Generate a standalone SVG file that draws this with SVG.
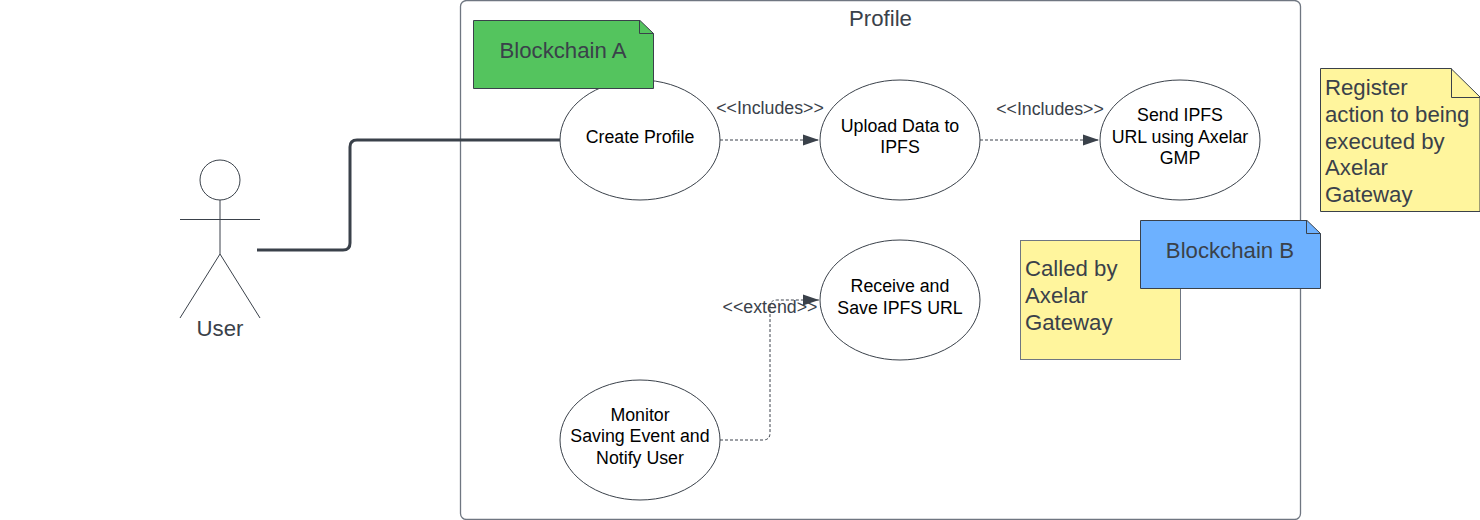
<svg xmlns="http://www.w3.org/2000/svg" width="1480" height="520" viewBox="0 0 1480 520">
<style>
text{font-family:"Liberation Sans",Arial,sans-serif;fill:#3a414a;}
.l{font-size:22.2px;}
.b{font-size:17.78px;fill:#000;text-anchor:middle;}
.c{font-size:17.78px;text-anchor:middle;}
.t{font-size:22.2px;text-anchor:middle;}
.e{fill:#fff;stroke:#3a414a;stroke-width:1;}
.n{stroke:#3a414a;stroke-width:1;}
.o{fill:none;stroke:#3a414a;stroke-width:1;}
.d{fill:none;stroke:#3a414a;stroke-width:1;stroke-dasharray:3 2;}
</style>
<defs>
<marker id="a" markerUnits="userSpaceOnUse" markerWidth="16" markerHeight="12" refX="16" refY="6" orient="auto"><path d="M0 0.500L16 6L0 11.500Z" fill="#3a414a"/></marker>
</defs>
<rect width="1480" height="520" fill="#fff"/>
<g id="profile"><rect x="460.500" y="0.500" width="840" height="519" rx="6" fill="#fff" stroke="#6f7681" stroke-width="1.300"/><text class="t" x="880.500" y="26">Profile</text></g>
<g id="create-profile"><ellipse class="e" cx="640" cy="140" rx="80" ry="60"/><text class="b" x="640" y="143.300">Create Profile</text></g>
<g id="blockchain-a"><path class="n" fill="#54c45e" d="M473.500 20.500H640L653.500 33.500V88.500H473.500Z"/><path class="o" d="M639.500 20.500V33.500H653.500"/><text class="l" x="563" y="58" text-anchor="middle">Blockchain A</text></g>
<g id="upload"><ellipse class="e" cx="900" cy="140" rx="80" ry="60"/><text class="b" x="900" y="132.200">Upload Data to</text><text class="b" x="900" y="153.300">IPFS</text></g>
<g id="send"><ellipse class="e" cx="1180" cy="140" rx="80" ry="60"/><text class="b" x="1180" y="120.600">Send IPFS</text><text class="b" x="1180" y="142.600">URL using Axelar</text><text class="b" x="1180" y="163.700">GMP</text></g>
<g id="receive"><ellipse class="e" cx="900" cy="300" rx="80" ry="60"/><text class="b" x="900" y="291.700">Receive and</text><text class="b" x="900" y="313.600">Save IPFS URL</text></g>
<g id="monitor"><ellipse class="e" cx="640" cy="440" rx="80" ry="60"/><text class="b" x="640" y="420.700">Monitor</text><text class="b" x="640" y="442.300">Saving Event and</text><text class="b" x="640" y="463.700">Notify User</text></g>
<g id="called"><rect x="1020.500" y="240.500" width="160" height="119" fill="#fff59d" stroke="#6f7681"/><text class="l" x="1025" y="276">Called by</text><text class="l" x="1025" y="303">Axelar</text><text class="l" x="1025" y="329.700">Gateway</text></g>
<g id="blockchain-b"><path class="n" fill="#6db1ff" d="M1140.500 220.500H1307L1320.500 233.500V288.500H1140.500Z"/><path class="o" d="M1306.500 220.500V233.500H1320.500"/><text class="l" x="1230" y="258" text-anchor="middle">Blockchain B</text></g>
<g id="register"><path class="n" fill="#fff59d" d="M1320.500 68.500H1451L1480 97V211.500H1320.500Z"/><path class="o" d="M1451.500 68.500V97.500H1480"/><text class="l" x="1325" y="95">Register</text><text class="l" x="1325" y="122">action to being</text><text class="l" x="1325" y="148.500">executed by</text><text class="l" x="1325" y="175">Axelar</text><text class="l" x="1325" y="202">Gateway</text></g>
<g id="user"><circle class="o" cx="220" cy="180" r="20"/><path class="o" d="M220 200V254M180 219.500H260M220 254L180 318M220 254L260 318"/><text class="t" x="220" y="336">User</text></g>
<g id="connectors">
<path fill="none" stroke="#3a414a" stroke-width="3" d="M257 250H343Q350 250 350 243V147Q350 140 357 140H560"/>
<path class="d" marker-end="url(#a)" d="M720 140H819"/>
<path class="d" marker-end="url(#a)" d="M980 140H1099"/>
<path class="d" stroke="#6f7681" marker-end="url(#a)" d="M720 440H763Q770 440 770 433V307Q770 300 777 300H819"/>
<text class="c" x="770" y="113.800">&lt;&lt;Includes&gt;&gt;</text>
<text class="c" x="1050" y="114.800">&lt;&lt;Includes&gt;&gt;</text>
<text class="c" x="770" y="313.400">&lt;&lt;extend&gt;&gt;</text>
</g>
</svg>
